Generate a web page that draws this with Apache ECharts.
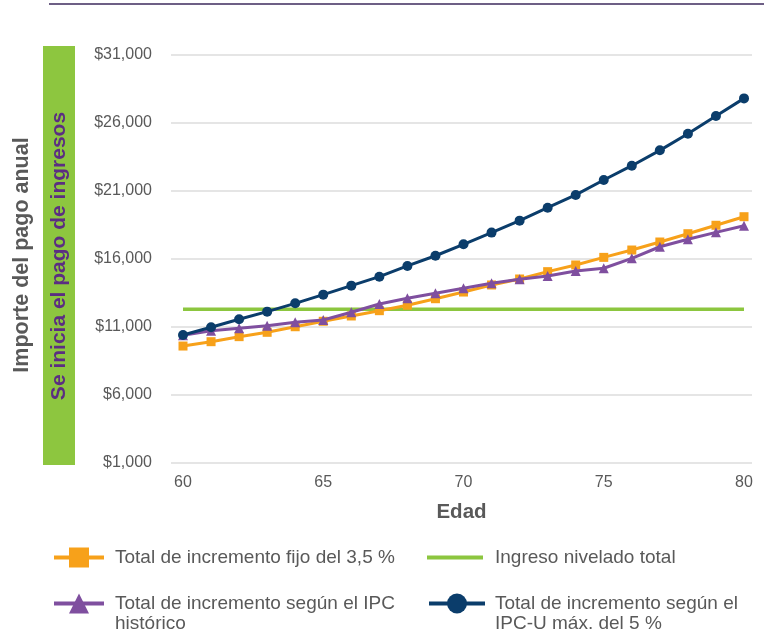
<!DOCTYPE html>
<html>
<head>
<meta charset="utf-8">
<script src="https://cdn.jsdelivr.net/npm/echarts@6/dist/echarts.min.js"></script>
<style>
html,body{margin:0;padding:0;background:#fff;}
#chart{width:764px;height:632px;}
</style>
</head>
<body>
<div id="chart"></div>
<script>
const ages = [60,61,62,63,64,65,66,67,68,69,70,71,72,73,74,75,76,77,78,79,80];
const fixed35 = [9600,9920,10290,10610,11020,11420,11810,12200,12600,13080,13570,14090,14530,15070,15560,16120,16660,17250,17860,18480,19110];
const cpiHist = [10400,10730,10900,11100,11350,11510,12080,12690,13110,13480,13850,14210,14510,14750,15120,15320,16050,16900,17450,17960,18450];
const level = [12300,12300,12300,12300,12300,12300,12300,12300,12300,12300,12300,12300,12300,12300,12300,12300,12300,12300,12300,12300,12300];
const cpiU5 = [10410,10980,11570,12130,12740,13380,14040,14700,15490,16240,17080,17940,18820,19770,20710,21810,22860,23990,25210,26510,27810];
const xTicks = [60,65,70,75,80];
const seriesNames = [
  'Total de incremento fijo del 3,5 %',
  'Ingreso nivelado total',
  'Total de incremento según el IPC\nhistórico',
  'Total de incremento según el\nIPC-U máx. del 5 %'
];

const ORANGE = '#f7a11a', GREEN = '#8cc63f', PURPLE = '#7f4f9f', NAVY = '#0b3d6b';
const FONT = '"Liberation Sans", Arial, Helvetica, sans-serif';
const TXT = '#595959';

const pairs = arr => ages.map((a, i) => [a, arr[i]]);

const chart = echarts.init(document.getElementById('chart'), null, {renderer: 'canvas'});

function legendAt(item, left, top, w, iconH, pad) {
  return {
    data: [item], left: left, top: top, orient: 'horizontal',
    itemWidth: w, itemHeight: iconH, itemGap: 0, padding: 0,
    selectedMode: false,
    lineStyle: {width: 4},
    formatter: n => n.split('\n')[0],
    textStyle: {fontFamily: FONT, fontSize: 19, color: TXT, lineHeight: 25, padding: [0,0,0,pad]}
  };
}

chart.setOption({
  animation: false,
  textStyle: {fontFamily: FONT},
  grid: {left: 171, right: 12, top: 55, bottom: 169, containLabel: false},
  xAxis: {
    type: 'value', min: 59.572, max: 80.285,
    name: 'Edad', nameLocation: 'middle', nameGap: 39,
    nameTextStyle: {fontFamily: FONT, fontSize: 20.5, fontWeight: 'bold', color: TXT},
    axisLine: {show: false}, axisTick: {show: false}, splitLine: {show: false},
    axisLabel: {customValues: xTicks, fontFamily: FONT, fontSize: 16, color: TXT, margin: 12}
  },
  yAxis: {
    type: 'value', min: 1000, max: 31000, interval: 5000,
    axisLine: {show: false}, axisTick: {show: false},
    splitLine: {lineStyle: {color: '#dcdcdc', width: 1.5}},
    axisLabel: {fontFamily: FONT, fontSize: 16, color: TXT, margin: 19,
      formatter: v => '$' + v.toLocaleString('en-US')}
  },
  legend: [
    legendAt(seriesNames[0], 52, 545, 50, 25, 6),
    legendAt({name: seriesNames[1], icon: 'rect'}, 427, 545, 56, 4, 7),
    legendAt(seriesNames[2], 52, 591, 50, 25, 6),
    legendAt(seriesNames[3], 427, 591, 56, 25, 5)
  ],
  graphic: [
    {type: 'line', shape: {x1: 49, y1: 4, x2: 764, y2: 4}, style: {stroke: '#3c2a5c', lineWidth: 1.5}},
    {type: 'rect', shape: {x: 43, y: 46, width: 32, height: 419}, style: {fill: '#8dc63f'}},
    {type: 'text', x: 59, y: 256, rotation: Math.PI / 2,
      style: {text: 'Se inicia el pago de ingresos', fill: '#5b2d82', font: 'bold 21px ' + FONT,
        textAlign: 'center', textVerticalAlign: 'middle'}},
    {type: 'text', x: 22, y: 255, rotation: Math.PI / 2,
      style: {text: 'Importe del pago anual', fill: TXT, font: 'bold 21.5px ' + FONT,
        textAlign: 'center', textVerticalAlign: 'middle'}},
    {type: 'text', x: 115, y: 624,
      style: {text: seriesNames[2].split('\n')[1], fill: TXT, font: '19px ' + FONT,
        textAlign: 'left', textVerticalAlign: 'middle'}},
    {type: 'text', x: 495, y: 624,
      style: {text: seriesNames[3].split('\n')[1], fill: TXT, font: '19px ' + FONT,
        textAlign: 'left', textVerticalAlign: 'middle'}}
  ],
  series: [
    {name: seriesNames[1], type: 'line', data: pairs(level), symbol: 'none',
      lineStyle: {color: GREEN, width: 3.5}, itemStyle: {color: GREEN}, z: 2},
    {name: seriesNames[0], type: 'line', data: pairs(fixed35), symbol: 'rect', symbolSize: 9,
      lineStyle: {color: ORANGE, width: 3}, itemStyle: {color: ORANGE}, z: 3},
    {name: seriesNames[2], type: 'line', data: pairs(cpiHist), symbol: 'triangle', symbolSize: 10,
      lineStyle: {color: PURPLE, width: 3}, itemStyle: {color: PURPLE}, z: 4},
    {name: seriesNames[3], type: 'line', data: pairs(cpiU5), symbol: 'circle', symbolSize: 10,
      lineStyle: {color: NAVY, width: 3}, itemStyle: {color: NAVY}, z: 5}
  ]
});
</script>
</body>
</html>
